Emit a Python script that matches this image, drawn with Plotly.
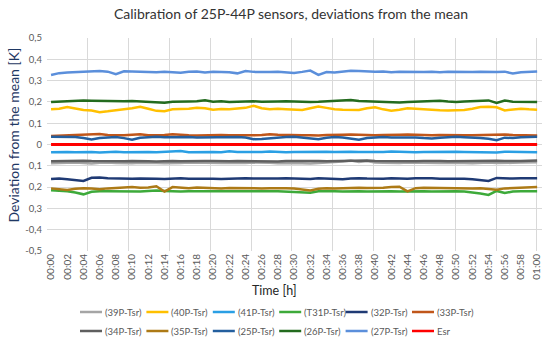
import plotly.graph_objects as go

# time in minutes from start
minutes = list(range(0, 61))

tick_minutes = list(range(0, 61, 2))
tick_labels = ["00:%02d" % m if m < 60 else "01:00" for m in tick_minutes]

y_tickvals = [0.5, 0.4, 0.3, 0.2, 0.1, 0.0, -0.1, -0.2, -0.3, -0.4, -0.5]
y_ticktext = ["0,5", "0,4", "0,3", "0,2", "0,1", "0", "0,1", "0,2", "0,3", "-0,4", "-0,5"]

s39P = [-0.088, -0.086, -0.084, -0.085, -0.087, -0.089, -0.086, -0.084, -0.087, -0.089, -0.088, -0.086, -0.085, -0.087, -0.088, -0.089, -0.087, -0.085, -0.086, -0.088, -0.089, -0.087, -0.086, -0.088, -0.087, -0.085, -0.084, -0.086, -0.088, -0.087, -0.086, -0.088, -0.089, -0.087, -0.086, -0.084, -0.080, -0.075, -0.082, -0.078, -0.084, -0.086, -0.088, -0.087, -0.085, -0.086, -0.088, -0.089, -0.087, -0.086, -0.085, -0.087, -0.088, -0.086, -0.085, -0.087, -0.088, -0.086, -0.085, -0.084, -0.083]
s40P = [0.165, 0.168, 0.176, 0.170, 0.162, 0.160, 0.152, 0.156, 0.162, 0.166, 0.170, 0.177, 0.168, 0.158, 0.156, 0.165, 0.167, 0.168, 0.173, 0.170, 0.163, 0.167, 0.165, 0.168, 0.172, 0.182, 0.170, 0.165, 0.168, 0.166, 0.165, 0.162, 0.170, 0.178, 0.172, 0.165, 0.163, 0.164, 0.162, 0.170, 0.175, 0.165, 0.158, 0.163, 0.170, 0.168, 0.165, 0.163, 0.161, 0.160, 0.162, 0.162, 0.168, 0.176, 0.177, 0.175, 0.160, 0.165, 0.168, 0.165, 0.163]
s41P = [-0.036, -0.034, -0.035, -0.036, -0.034, -0.035, -0.037, -0.035, -0.034, -0.036, -0.035, -0.033, -0.035, -0.036, -0.034, -0.035, -0.031, -0.036, -0.035, -0.034, -0.035, -0.036, -0.032, -0.035, -0.036, -0.034, -0.035, -0.033, -0.035, -0.036, -0.035, -0.034, -0.036, -0.035, -0.034, -0.035, -0.033, -0.034, -0.035, -0.036, -0.034, -0.035, -0.033, -0.035, -0.034, -0.036, -0.035, -0.034, -0.035, -0.033, -0.034, -0.035, -0.036, -0.034, -0.035, -0.037, -0.034, -0.035, -0.036, -0.035, -0.036]
sT31P = [-0.215, -0.216, -0.220, -0.225, -0.234, -0.222, -0.219, -0.220, -0.221, -0.219, -0.220, -0.221, -0.218, -0.216, -0.218, -0.220, -0.221, -0.220, -0.219, -0.221, -0.220, -0.219, -0.220, -0.221, -0.220, -0.219, -0.221, -0.220, -0.219, -0.220, -0.221, -0.224, -0.226, -0.220, -0.219, -0.220, -0.221, -0.219, -0.220, -0.221, -0.220, -0.219, -0.220, -0.221, -0.220, -0.219, -0.220, -0.221, -0.220, -0.219, -0.220, -0.221, -0.224, -0.230, -0.237, -0.218, -0.228, -0.221, -0.220, -0.219, -0.220]
s32P = [-0.162, -0.160, -0.163, -0.168, -0.171, -0.156, -0.155, -0.158, -0.160, -0.159, -0.161, -0.160, -0.159, -0.161, -0.162, -0.160, -0.159, -0.161, -0.160, -0.159, -0.161, -0.162, -0.160, -0.161, -0.159, -0.160, -0.161, -0.162, -0.160, -0.159, -0.160, -0.161, -0.162, -0.159, -0.160, -0.161, -0.163, -0.160, -0.158, -0.160, -0.162, -0.161, -0.159, -0.160, -0.161, -0.158, -0.157, -0.159, -0.161, -0.160, -0.162, -0.161, -0.163, -0.167, -0.171, -0.157, -0.159, -0.160, -0.159, -0.158, -0.158]
s33P = [0.040, 0.041, 0.042, 0.043, 0.044, 0.046, 0.049, 0.045, 0.043, 0.044, 0.046, 0.048, 0.044, 0.043, 0.045, 0.048, 0.044, 0.043, 0.042, 0.044, 0.046, 0.045, 0.043, 0.042, 0.044, 0.043, 0.045, 0.048, 0.046, 0.044, 0.042, 0.043, 0.044, 0.042, 0.045, 0.044, 0.046, 0.047, 0.045, 0.043, 0.044, 0.045, 0.044, 0.046, 0.047, 0.045, 0.044, 0.043, 0.045, 0.044, 0.042, 0.043, 0.044, 0.045, 0.046, 0.044, 0.047, 0.045, 0.044, 0.043, 0.042]
s34P = [-0.079, -0.078, -0.080, -0.077, -0.076, -0.078, -0.079, -0.078, -0.080, -0.079, -0.078, -0.077, -0.079, -0.080, -0.078, -0.077, -0.079, -0.078, -0.076, -0.077, -0.078, -0.080, -0.079, -0.078, -0.079, -0.077, -0.078, -0.079, -0.080, -0.078, -0.077, -0.079, -0.078, -0.077, -0.079, -0.078, -0.076, -0.074, -0.076, -0.075, -0.077, -0.078, -0.079, -0.077, -0.078, -0.079, -0.078, -0.077, -0.078, -0.079, -0.078, -0.077, -0.079, -0.078, -0.077, -0.076, -0.078, -0.079, -0.077, -0.076, -0.075]
s35P = [-0.206, -0.209, -0.213, -0.208, -0.205, -0.207, -0.210, -0.206, -0.204, -0.205, -0.200, -0.203, -0.202, -0.196, -0.221, -0.200, -0.203, -0.205, -0.202, -0.204, -0.205, -0.206, -0.204, -0.205, -0.203, -0.204, -0.206, -0.205, -0.204, -0.205, -0.207, -0.213, -0.216, -0.208, -0.205, -0.206, -0.204, -0.205, -0.203, -0.204, -0.205, -0.203, -0.200, -0.198, -0.220, -0.205, -0.203, -0.204, -0.205, -0.206, -0.204, -0.205, -0.206, -0.205, -0.210, -0.212, -0.206, -0.205, -0.204, -0.201, -0.200]
s25P = [0.036, 0.035, 0.036, 0.035, 0.030, 0.024, 0.030, 0.033, 0.035, 0.030, 0.022, 0.032, 0.035, 0.036, 0.034, 0.035, 0.036, 0.035, 0.033, 0.034, 0.035, 0.036, 0.034, 0.035, 0.033, 0.025, 0.026, 0.030, 0.034, 0.035, 0.036, 0.033, 0.028, 0.025, 0.032, 0.035, 0.033, 0.028, 0.022, 0.030, 0.034, 0.035, 0.033, 0.034, 0.035, 0.033, 0.030, 0.028, 0.032, 0.035, 0.036, 0.034, 0.033, 0.030, 0.027, 0.020, 0.032, 0.030, 0.034, 0.035, 0.036]
s26P = [0.200, 0.202, 0.204, 0.205, 0.206, 0.205, 0.204, 0.203, 0.201, 0.203, 0.204, 0.202, 0.200, 0.201, 0.196, 0.201, 0.203, 0.202, 0.203, 0.208, 0.201, 0.203, 0.200, 0.202, 0.204, 0.203, 0.201, 0.200, 0.202, 0.203, 0.201, 0.202, 0.200, 0.201, 0.203, 0.204, 0.206, 0.209, 0.204, 0.202, 0.203, 0.200, 0.198, 0.197, 0.200, 0.202, 0.201, 0.203, 0.205, 0.202, 0.200, 0.202, 0.203, 0.204, 0.207, 0.195, 0.206, 0.201, 0.200, 0.201, 0.200]
s27P = [0.326, 0.335, 0.338, 0.340, 0.342, 0.346, 0.345, 0.342, 0.330, 0.344, 0.342, 0.340, 0.341, 0.339, 0.342, 0.340, 0.337, 0.341, 0.343, 0.338, 0.341, 0.340, 0.339, 0.334, 0.345, 0.341, 0.339, 0.340, 0.342, 0.338, 0.336, 0.341, 0.347, 0.327, 0.340, 0.338, 0.343, 0.346, 0.345, 0.342, 0.341, 0.343, 0.339, 0.341, 0.340, 0.342, 0.340, 0.341, 0.339, 0.341, 0.340, 0.342, 0.340, 0.341, 0.339, 0.340, 0.342, 0.333, 0.339, 0.341, 0.343]
sEsr = [0.0] * 61

series_names = ["(39P-Tsr)", "(40P-Tsr)", "(41P-Tsr)", "(T31P-Tsr)", "(32P-Tsr)", "(33P-Tsr)",
                "(34P-Tsr)", "(35P-Tsr)", "(25P-Tsr)", "(26P-Tsr)", "(27P-Tsr)", "Esr"]
series_values = [s39P, s40P, s41P, sT31P, s32P, s33P, s34P, s35P, s25P, s26P, s27P, sEsr]
series_colors = ["#A5A5A5", "#FFC000", "#2A9FE4", "#3DAA3A", "#1F3A74", "#C0561A",
                 "#5F5F5F", "#AD7A16", "#245F9E", "#236B1E", "#5B8FDB", "#FF0000"]

for v in series_values:
    assert len(v) == len(minutes), len(v)

# ---- layout geometry (pixels) ----
W, H = 550, 341
L, R, T, B = 47, 8, 38, 90
PW, PH = W - L - R, H - T - B


def px(xp):
    return (xp - L) / PW


def py(yp):
    return (H - B - yp) / PH


FONT = "Lato"
grid = "#D9D9D9"

fig = go.Figure()
for name, vals, col in zip(series_names, series_values, series_colors):
    fig.add_trace(go.Scatter(
        x=minutes, y=vals, name=name, mode="lines",
        line=dict(color=col, width=3 if name == "Esr" else 2.5),
        showlegend=False, hoverinfo="x+y+name",
    ))

# helper (empty) trace so the overlay axis carrying the vertical gridlines is drawn
fig.add_trace(go.Scatter(x=[minutes[0]], y=[None], xaxis="x2", showlegend=False,
                         hoverinfo="skip", mode="lines"))

# ---- custom legend (2 rows x 6) ----
shapes = []
annotations = []
leg_x0, leg_dx = 80, 66.4
leg_rows = [312, 331]
for i, (name, col) in enumerate(zip(series_names, series_colors)):
    r, c = divmod(i, 6)
    x0 = leg_x0 + c * leg_dx
    yy = leg_rows[r]
    shapes.append(dict(type="line", xref="paper", yref="paper",
                       x0=px(x0), x1=px(x0 + 22), y0=py(yy), y1=py(yy),
                       line=dict(color=col, width=2.5)))
    annotations.append(dict(text=name, xref="paper", yref="paper",
                            x=px(x0 + 23), y=py(yy), xanchor="left", yanchor="middle",
                            showarrow=False,
                            font=dict(family=FONT, size=9.5, color="#595959")))

annotations += [
    dict(text="Calibration of 25P-44P sensors, deviations from the mean",
         xref="paper", yref="paper", x=px(291), y=py(13),
         xanchor="center", yanchor="middle", showarrow=False,
         font=dict(family=FONT, size=14, color="#333333")),
    dict(text="Deviation from the mean [K]",
         xref="paper", yref="paper", x=px(13), y=py(135.5),
         xanchor="center", yanchor="middle", showarrow=False, textangle=-90,
         font=dict(family=FONT, size=14, color="#1F3864")),
    dict(text="Time [h]",
         xref="paper", yref="paper", x=px(274), y=py(290),
         xanchor="center", yanchor="middle", showarrow=False,
         font=dict(family=FONT, size=12.5, color="#262626")),
]

fig.update_layout(
    width=W, height=H,
    margin=dict(l=L, r=R, t=T, b=B),
    paper_bgcolor="white", plot_bgcolor="white",
    font=dict(family=FONT, size=9, color="#595959"),
    showlegend=False,
    xaxis=dict(
        range=[-0.5, 60.6], tickmode="array", tickvals=tick_minutes, ticktext=tick_labels,
        tickangle=-90, showgrid=False, zeroline=False, showline=False, ticks="",
        tickfont=dict(family=FONT, size=10, color="#595959"),
    ),
    xaxis2=dict(
        overlaying="x", anchor="y", side="bottom", range=[-0.5, 60.6],
        tickmode="linear", tick0=-0.5, dtick=5.04, showgrid=True, gridcolor=grid, gridwidth=1,
        showticklabels=False, zeroline=False, showline=False, ticks="",
    ),
    yaxis=dict(
        range=[-0.5, 0.5], tickmode="array", tickvals=y_tickvals, ticktext=y_ticktext,
        showgrid=True, gridcolor=grid, gridwidth=1, zeroline=False, showline=False,
        ticks="", ticklabelstandoff=4,
        tickfont=dict(family=FONT, size=9.5, color="#595959"),
    ),
    shapes=shapes,
    annotations=annotations,
)

fig.write_html("out.html",
               config={"displayModeBar": False},
               post_script="document.body.style.margin='0';document.body.style.overflow='hidden';")
